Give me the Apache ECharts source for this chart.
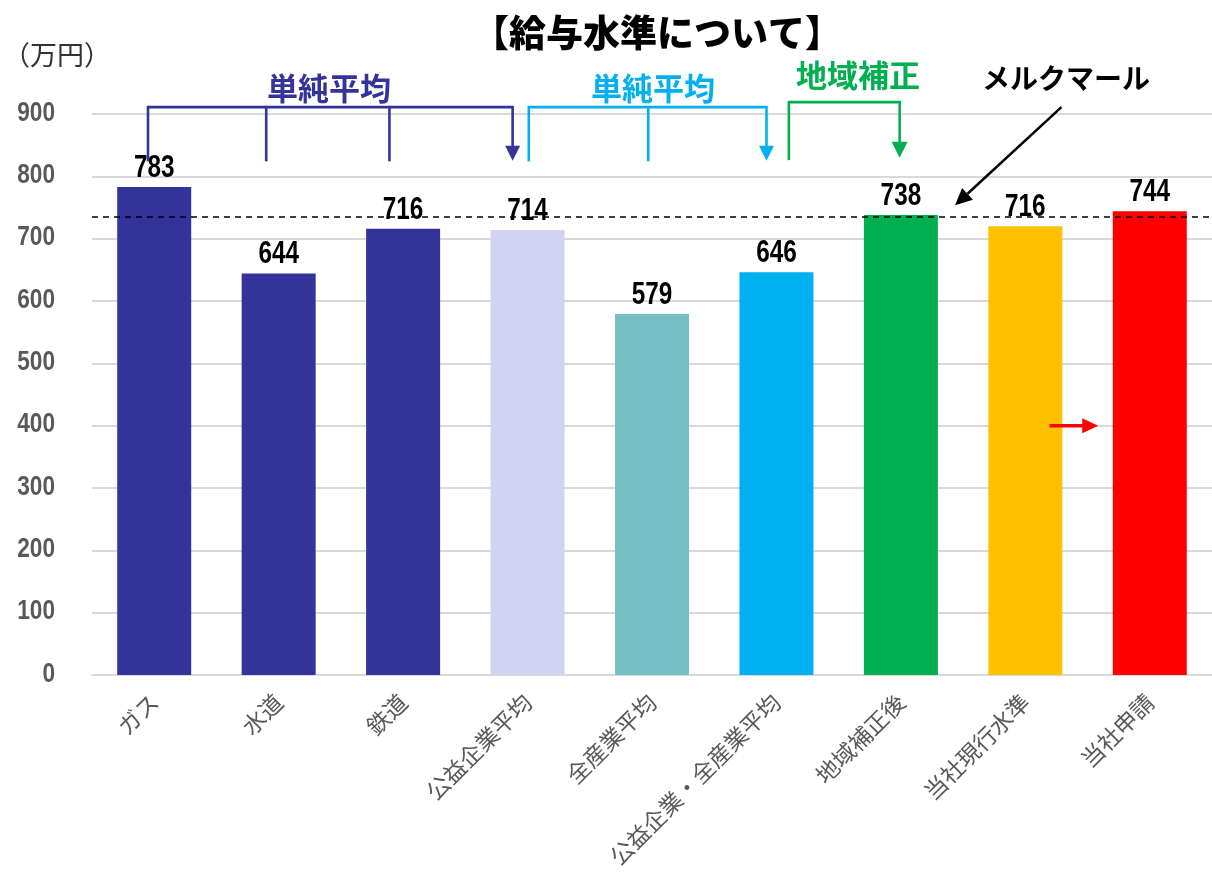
<!DOCTYPE html>
<html><head><meta charset="utf-8">
<script src="https://cdn.jsdelivr.net/npm/echarts@6/dist/echarts.min.js"></script>
<style>html,body{margin:0;padding:0;background:#fff}#c{width:1212px;height:873px}</style>
</head><body><div id="c"></div>
<script>
const categories = ['ガス','水道','鉄道','公益企業平均','全産業平均','公益企業・全産業平均','地域補正後','当社現行水準','当社申請'];
const values = [783, 644, 716, 714, 579, 646, 738, 720, 744];
const labelTexts = ['783','644','716','714','579','646','738','716','744'];
const barColors = ['#333399','#333399','#333399','#D2D3F0','#75C0C5','#00B0F0','#00B050','#FFC000','#FF0000'];
const yTicks = [0,100,200,300,400,500,600,700,800,900];
const merkmal = 735;
const redArrowValue = 400;

const NUM = "'Liberation Sans','Arial',sans-serif";
const JP = "'Noto Sans CJK JP','Noto Sans',sans-serif";

const chart = echarts.init(document.getElementById('c'), null, {renderer:'canvas'});
const option = {
  animation:false,
  backgroundColor:'#fff',
  grid:{left:92, right:-6, top:114, bottom:198, containLabel:false},
  xAxis:{
    type:'category', data:categories,
    axisTick:{show:false},
    axisLine:{lineStyle:{color:'#D9D9D9', width:2}},
    axisLabel:{rotate:45, interval:0, fontSize:23, color:'#595959', fontFamily:JP, margin:23}
  },
  yAxis:{
    type:'value', min:yTicks[0], max:yTicks[yTicks.length-1], interval:100,
    axisLine:{show:false}, axisTick:{show:false},
    splitLine:{lineStyle:{color:'#D9D9D9', width:2}},
    axisLabel:{show:false}
  },
  series:[{
    type:'bar', barWidth:74,
    data: values.map((v,i)=>({value:v, itemStyle:{color:barColors[i]}})),
    label:{show:false},
    markLine:{
      symbol:['none','none'], silent:true, label:{show:false},
      lineStyle:{color:'#000', type:[6,5], width:1.5},
      data:[{yAxis:merkmal}]
    }
  }]
};
chart.setOption(option);

function X(f){ const a=chart.convertToPixel({xAxisIndex:0},0), b=chart.convertToPixel({xAxisIndex:0},1); return a+(b-a)*f; }
function Y(v){ return chart.convertToPixel({yAxisIndex:0}, v); }

const els = [];
function line(x1,y1,x2,y2,color,w){ els.push({type:'line', shape:{x1,y1,x2,y2}, style:{stroke:color, lineWidth:w}, z:10}); }
function downArrow(x,tipY,color,w,h){ els.push({type:'polygon', shape:{points:[[x-w/2,tipY-h],[x+w/2,tipY-h],[x,tipY]]}, style:{fill:color}, z:10}); }
function bracket(color, topV, xs, dropV, arrowF, arrowTipV, hw, hh){
  const yt=Y(topV);
  const all = xs.concat([arrowF]);
  line(X(Math.min(...all)), yt, X(Math.max(...all)), yt, color, 2.6);
  xs.forEach(f=>line(X(f), yt-1.3, X(f), Y(dropV), color, 2.6));
  line(X(arrowF), yt-1.3, X(arrowF), Y(arrowTipV)-hh+1, color, 2.6);
  downArrow(X(arrowF), Y(arrowTipV), color, hw, hh);
}
bracket('#333399', 911, [-0.05, 0.90, 1.89], 824, 2.88, 825, 15, 15);
bracket('#00B0F0', 911, [3.01, 3.97], 824, 4.92, 825, 15, 15);
bracket('#00B050', 919, [5.10], 826, 5.99, 830, 16, 16);

(function(){
  const x1=X(7.29), y1=Y(911), x2=X(6.435), y2=Y(753.5);
  const ang=Math.atan2(y2-y1,x2-x1), L=17, W=8;
  const bx=x2-L*Math.cos(ang), by=y2-L*Math.sin(ang);
  line(x1,y1,bx,by,'#000',2.5);
  els.push({type:'polygon', shape:{points:[[x2,y2],[bx+W*Math.sin(ang),by-W*Math.cos(ang)],[bx-W*Math.sin(ang),by+W*Math.cos(ang)]]}, style:{fill:'#000'}, z:10});
})();
(function(){
  const y=Y(redArrowValue), x1=X(7.194), x2=X(7.586);
  line(x1,y,x2-14,y,'#FF0000',3.5);
  els.push({type:'polygon', shape:{points:[[x2-16,y-7.5],[x2-16,y+7.5],[x2,y]]}, style:{fill:'#FF0000'}, z:10});
})();

// narrow numeric labels (bar values and y ticks)
values.forEach((v,i)=>{
  els.push({type:'text', x:X(i), y:Y(v)-3, scaleX:0.76, z:9,
    style:{text:labelTexts[i], fontSize:32, fontFamily:NUM, fontWeight:'bold', fill:'#000', align:'center', verticalAlign:'bottom'}});
});
yTicks.forEach(t=>{
  els.push({type:'text', x:55, y:Y(t)-1, scaleX:0.81, z:12,
    style:{text:String(t), fontSize:28, fontFamily:NUM, fontWeight:'bold', fill:'#595959', align:'right', verticalAlign:'middle'}});
});

function text(t,x,y,size,color,weight,align){
  els.push({type:'text', x, y, z:11, style:{text:t, fontSize:size, fontFamily:JP, fontWeight:weight||'bold', fill:color, align:align||'center', verticalAlign:'middle'}});
}
text('【給与水準について】', 657, 33, 37, '#000', '900');
text('（万円）', 3, 55, 27, '#333', 'normal', 'left');
text('単純平均', 329, 88, 31, '#333399');
text('単純平均', 653, 88, 31, '#00B0F0');
text('地域補正', 858, 75, 31, '#00B050');
text('メルクマール', 1066, 78, 28, '#000');

chart.setOption({graphic:els});
</script></body></html>
